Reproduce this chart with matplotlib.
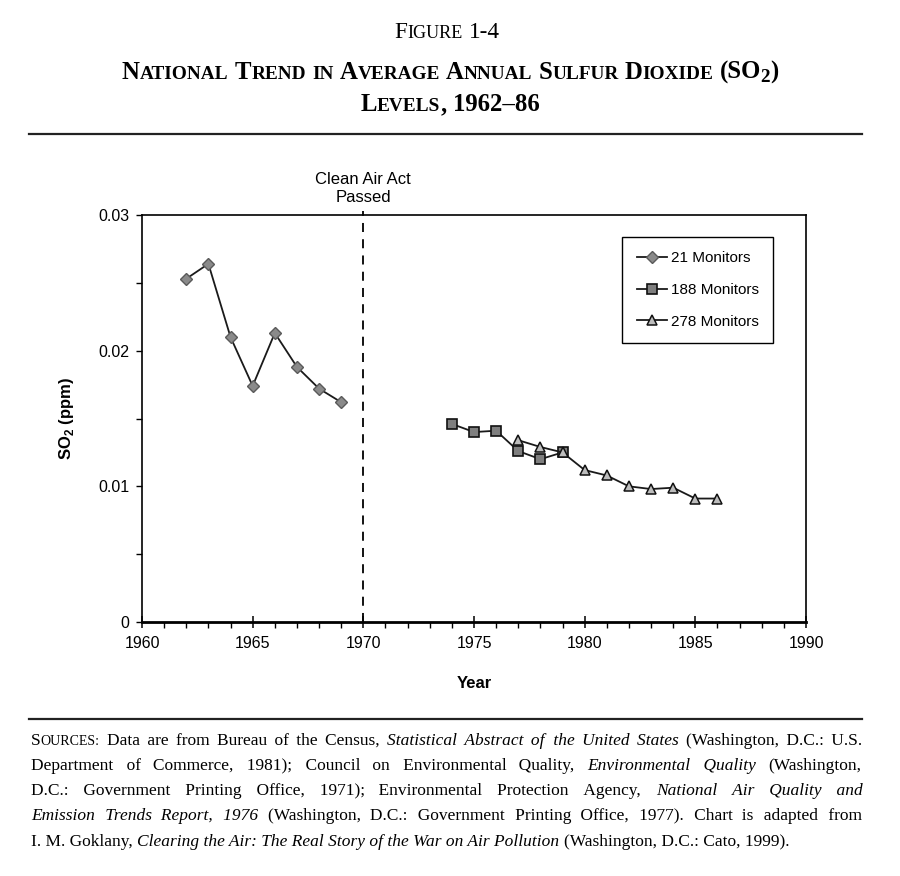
import matplotlib
matplotlib.use('Agg')
import matplotlib.pyplot as plt
from matplotlib.ticker import MultipleLocator

# SO2 annual averages (ppm)
years_21 = [1962, 1963, 1964, 1965, 1966, 1967, 1968, 1969]
so2_21 = [0.0253, 0.0264, 0.0210, 0.0174, 0.0213, 0.0188, 0.0172, 0.0162]

years_188 = [1974, 1975, 1976, 1977, 1978, 1979]
so2_188 = [0.0146, 0.0140, 0.0141, 0.0126, 0.0120, 0.0125]

years_278 = [1977, 1978, 1979, 1980, 1981, 1982, 1983, 1984, 1985, 1986]
so2_278 = [0.0134, 0.0129, 0.0125, 0.0112, 0.0108, 0.0100, 0.0098, 0.0099, 0.0091, 0.0091]

series_labels = ['21 Monitors', '188 Monitors', '278 Monitors']

W, H = 900, 876
SERIF = ['Liberation Serif', 'DejaVu Serif']
SANS = 'Liberation Sans'
HAIR = '\u200a'

plt.rcParams['font.family'] = SANS
plt.rcParams['mathtext.fontset'] = 'custom'
plt.rcParams['mathtext.rm'] = SANS
plt.rcParams['mathtext.bf'] = SANS + ':bold'

fig = plt.figure(figsize=(W / 100, H / 100), dpi=100)
renderer = fig.canvas.get_renderer()


def fx(x):
    return x / W


def fy(y):
    return 1 - y / H


def text_width(s, size, weight='normal', style='normal'):
    if style == 'kern':
        return size
    t = fig.text(0, 0, s, fontsize=size, family=SERIF, weight=weight, style=style)
    w = t.get_window_extent(renderer).width
    t.remove()
    return w


def space_width(size, weight='normal', style='normal'):
    return text_width('a a', size, weight, style) - text_width('aa', size, weight, style)


def word_width(word, weight):
    return sum(text_width(s, sz, weight, st) for s, sz, st, dy in word)


def line_width(words, weight, base_size):
    return sum(word_width(w, weight) for w in words) + space_width(base_size, weight) * (len(words) - 1)


def draw_title_line(words, baseline, weight, center, base_size):
    gap = space_width(base_size, weight)
    x = center - line_width(words, weight, base_size) / 2
    for w in words:
        for s, sz, st, dy in w:
            if st != 'kern':
                fig.text(fx(x), fy(baseline + dy), s, fontsize=sz, family=SERIF,
                         weight=weight, style=st, va='baseline', ha='left')
            x += text_width(s, sz, weight, st)
        x += gap


def smallcaps_words(text, big, small):
    # capitalised letters full size, lowercase letters as small capitals
    words = []
    for word in text.split(' '):
        runs = []
        for ch in word:
            if ch.isalpha() and ch.islower():
                sz, c = small, ch.upper()
            else:
                sz, c = big, ch
            if runs and runs[-1][1] == sz:
                runs[-1] = (runs[-1][0] + c, sz, 'normal', 0)
            else:
                runs.append((c, sz, 'normal', 0))
        words.append(runs)
    return words


ratio = 0.78


def title1(s):
    return smallcaps_words('Figure 1-4', s, s * ratio)


def title2(s):
    ws = smallcaps_words('National Trend in Average Annual Sulfur Dioxide', s, s * ratio)
    ws.append([('(SO', s, 'normal', 0), ('', -1, 'kern', 0),
               ('2', s * ratio, 'normal', 3), (')', s, 'normal', 0)])
    return ws


def title3(s):
    return smallcaps_words('Levels,', s, s * ratio) + [[('1962\u201386', s, 'normal', 0)]]


def fit(builder, target, weight, s0=16.0):
    return s0 * target / line_width(builder(s0), weight, s0)


# ---- title block ----
# the original face is narrower than Liberation Serif, so sizes are a compromise
s1 = 0.86 * fit(title1, 123, 'normal')
draw_title_line(title1(s1), 38, 'normal', 447, s1)
s2 = 0.92 * fit(title2, 715, 'bold')
draw_title_line(title2(s2), 79, 'bold', 450, s2)
draw_title_line(title3(s2), 111, 'bold', 450, s2)

fig.add_artist(plt.Line2D([fx(29), fx(862)], [fy(134), fy(134)], color='#222222', lw=1.6))
fig.add_artist(plt.Line2D([fx(29), fx(862)], [fy(719), fy(719)], color='#222222', lw=1.6))

# ---- sources note ----
src_lines = [
    [('SOURCES:', 'sc'), ('Data are from Bureau of the Census,', 'normal'),
     ('Statistical Abstract of the United States', 'italic'), ('(Washington, D.C.: U.S.', 'normal')],
    [('Department of Commerce, 1981); Council on Environmental Quality,', 'normal'),
     ('Environmental Quality', 'italic'), ('(Washington,', 'normal')],
    [('D.C.: Government Printing Office, 1971); Environmental Protection Agency,', 'normal'),
     ('National Air Quality and', 'italic')],
    [('Emission Trends Report, 1976', 'italic'),
     ('(Washington, D.C.: Government Printing Office, 1977). Chart is adapted from', 'normal')],
    [('I. M. Goklany,', 'normal'),
     ('Clearing the Air: The Real Story of the War on Air Pollution', 'italic'),
     ('(Washington, D.C.: Cato, 1999).', 'normal')],
]
src_baselines = [745, 770, 795, 820, 846]
left_x, right_x = 31, 862


def sc_runs(size):
    return [('S', size, 'normal', 0), ('OURCES:', size * 0.8, 'normal', 0)]


def src_words(line, size):
    words = []
    for seg, st in line:
        if st == 'sc':
            words.append(('sc', sc_runs(size)))
        else:
            for w in seg.split(' '):
                words.append((st, w))
    return words


def src_word_width(item, size):
    st, w = item
    if st == 'sc':
        return word_width(w, 'normal')
    return text_width(w, size, 'normal', st)


def draw_src_line(line, size, baseline, justify):
    words = src_words(line, size)
    sw = space_width(size)
    hw = (text_width('a' + HAIR * 10 + 'a', size) - text_width('aa', size)) / 10
    n_gaps = len(words) - 1
    extra = 0.0
    if justify:
        natural = sum(src_word_width(w, size) for w in words) + sw * n_gaps
        extra = max(0.0, (right_x - left_x - natural) / n_gaps)
    # hair spaces per gap, spread evenly
    ks = [round((i + 1) * extra / hw) - round(i * extra / hw) for i in range(n_gaps)]

    # group consecutive words of the same style into one text object
    groups = []
    for i, (st, w) in enumerate(words):
        if groups and st == groups[-1][0] and st != 'sc':
            groups[-1][1].append((w, i))
        else:
            groups.append((st, [(w, i)]))

    x = left_x
    for st, items in groups:
        if st == 'sc':
            for s, sz, _, dy in items[0][0]:
                fig.text(fx(x), fy(baseline), s, fontsize=sz, family=SERIF,
                         va='baseline', ha='left')
                x += text_width(s, sz)
        else:
            s = items[0][0]
            for w, i in items[1:]:
                s += ' ' + HAIR * ks[i - 1] + w
            fig.text(fx(x), fy(baseline), s, fontsize=size, family=SERIF, style=st,
                     va='baseline', ha='left')
            x += text_width(s, size, 'normal', st)
        last_idx = items[-1][1]
        if last_idx < n_gaps:
            x += sw + ks[last_idx] * hw


src_size = 12.5
widest = 0
for line in src_lines:
    ws = src_words(line, src_size)
    tot = sum(src_word_width(w, src_size) for w in ws) + space_width(src_size) * (len(ws) - 1)
    widest = max(widest, tot)
if widest > (right_x - left_x):
    src_size = src_size * (right_x - left_x) / widest * 0.995

for i, line in enumerate(src_lines):
    draw_src_line(line, src_size, src_baselines[i], justify=i < len(src_lines) - 1)

# ---- chart ----
ax = fig.add_axes([fx(142), fy(622), (806 - 142) / W, (622 - 215) / H])

line_kw = dict(color='#1a1a1a', lw=1.3)
ax.plot(years_21, so2_21, marker='D', ms=6.5, mfc='#8a8a8a', mec='#5a5a5a', mew=1.0,
        label=series_labels[0], **line_kw)
ax.plot(years_188, so2_188, marker='s', ms=7.5, mfc='#7f7f7f', mec='#111111', mew=1.2,
        label=series_labels[1], **line_kw)
ax.plot(years_278, so2_278, marker='^', ms=7.5, mfc='#bdbdbd', mec='#111111', mew=1.1,
        label=series_labels[2], **line_kw)

ax.plot([1970, 1970], [0, 1.01], transform=ax.get_xaxis_transform(), clip_on=False,
        color='black', lw=1.3, dashes=(5, 4))

ax.set_xlim(1960, 1990)
ax.set_ylim(0, 0.03)
ax.xaxis.set_major_locator(MultipleLocator(5))
ax.xaxis.set_minor_locator(MultipleLocator(1))
ax.yaxis.set_minor_locator(MultipleLocator(0.005))
ax.set_yticks([0, 0.01, 0.02, 0.03])
ax.set_yticklabels(['0', '0.01', '0.02', '0.03'])

ax.tick_params(axis='both', which='major', labelsize=11.5, width=1.1, color='black')
ax.tick_params(axis='x', which='major', direction='inout', length=8, pad=6)
ax.tick_params(axis='x', which='minor', direction='out', length=4, width=1.0)
ax.tick_params(axis='y', which='both', direction='out', length=4, width=1.0, pad=5)

for sp in ax.spines.values():
    sp.set_linewidth(1.2)
ax.spines['bottom'].set_linewidth(2.0)

ax.set_xlabel('Year', fontsize=12, fontweight='bold', labelpad=18)
ax.set_ylabel(r'SO$_\mathbf{2}$ (ppm)', fontsize=12, fontweight='bold', labelpad=16)

ax.annotate('Clean Air Act\nPassed', xy=(1970, 1.0), xycoords=('data', 'axes fraction'),
            xytext=(0, 7), textcoords='offset points', ha='center', va='bottom',
            fontsize=12, linespacing=1.25)

leg = ax.legend(loc='upper left', bbox_to_anchor=(0.723, 0.946), borderaxespad=0,
                fancybox=False, edgecolor='black', fontsize=11, handlelength=2.0,
                handletextpad=0.25, labelspacing=1.15, borderpad=0.95, framealpha=1)
leg.get_frame().set_linewidth(1.0)

fig.savefig('out.png', dpi=100)
